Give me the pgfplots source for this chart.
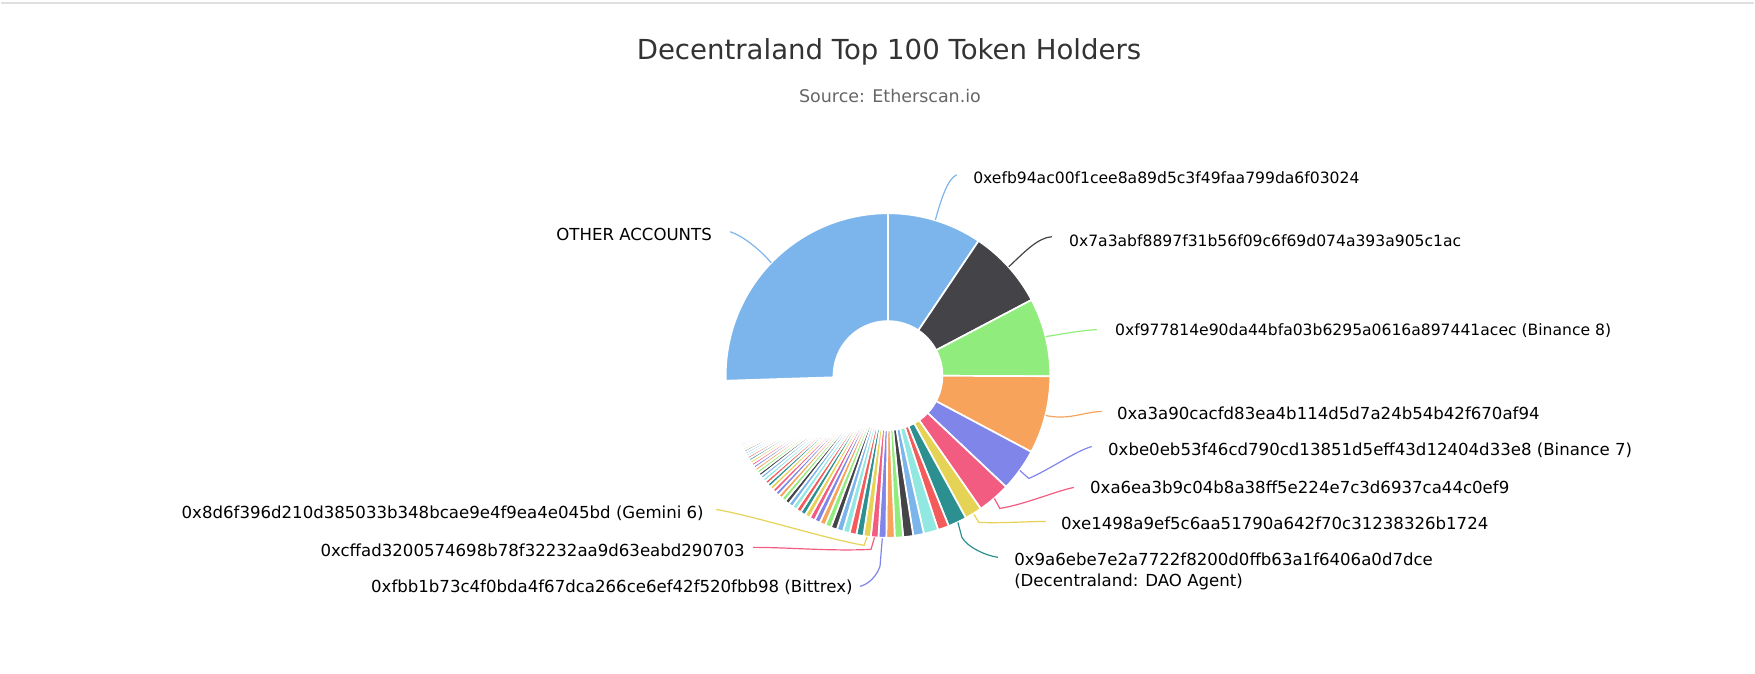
\documentclass[border=0pt]{standalone}
\usepackage{pgfplots}
\usepackage{pgfplotstable}
\pgfplotsset{compat=1.18}
\usepackage{fontspec}
\setmainfont{DejaVu Sans}

\definecolor{c0}{HTML}{7CB5EC}
\definecolor{c1}{HTML}{434348}
\definecolor{c2}{HTML}{90ED7D}
\definecolor{c3}{HTML}{F7A35C}
\definecolor{c4}{HTML}{8085E9}
\definecolor{c5}{HTML}{F15C80}
\definecolor{c6}{HTML}{E4D354}
\definecolor{c7}{HTML}{2B908F}
\definecolor{c8}{HTML}{F45B5B}
\definecolor{c9}{HTML}{91E8E1}
\definecolor{titlegray}{HTML}{333333}
\definecolor{subgray}{HTML}{666666}

% share of supply (%) of the top 100 holders, rank 101 = OTHER ACCOUNTS
\pgfplotstableread{
rank share
1 9.42
2 7.86
3 7.78
4 7.72
5 4.25
6 3.28
7 1.72
8 1.86
9 1.11
10 1.44
11 1.06
12 1.00
13 0.83
14 0.83
15 0.778
16 0.753
17 0.729
18 0.705
19 0.683
20 0.661
21 0.640
22 0.619
23 0.600
24 0.580
25 0.562
26 0.544
27 0.526
28 0.510
29 0.493
30 0.477
31 0.462
32 0.447
33 0.433
34 0.419
35 0.406
36 0.393
37 0.380
38 0.368
39 0.356
40 0.345
41 0.334
42 0.323
43 0.313
44 0.303
45 0.293
46 0.284
47 0.275
48 0.266
49 0.257
50 0.249
51 0.241
52 0.233
53 0.226
54 0.219
55 0.212
56 0.205
57 0.198
58 0.192
59 0.186
60 0.180
61 0.174
62 0.169
63 0.163
64 0.158
65 0.153
66 0.150
67 0.149
68 0.148
69 0.147
70 0.146
71 0.145
72 0.144
73 0.143
74 0.142
75 0.141
76 0.140
77 0.139
78 0.138
79 0.137
80 0.136
81 0.135
82 0.134
83 0.133
84 0.132
85 0.131
86 0.130
87 0.129
88 0.128
89 0.127
90 0.126
91 0.125
92 0.124
93 0.123
94 0.122
95 0.121
96 0.120
97 0.119
98 0.118
99 0.117
100 0.116
101 25.50
}\holders

\begin{document}
\begin{tikzpicture}
\begin{axis}[width=877.5pt,height=337pt,scale only axis,
  xmin=0,xmax=1755,ymin=0,ymax=674,hide axis,clip=false]
\path (axis cs:0,0) rectangle (axis cs:1755,674);
\draw[black!12, line width=1pt] (axis cs:0,671) -- (axis cs:1755,671);
\pgfplotsextra{
  \pgfplotstablegetrowsof{\holders}
  \pgfmathtruncatemacro\N{\pgfplotsretval-1}
  \xdef\tot{0}
  \foreach \i in {0,...,\N}{
    \pgfplotstablegetelem{\i}{share}\of\holders
    \pgfmathparse{\tot+\pgfplotsretval}\xdef\tot{\pgfmathresult}
  }
  \xdef\ang{90}
  \foreach \i in {0,...,\N}{
    \pgfplotstablegetelem{\i}{share}\of\holders
    \pgfmathsetmacro\e{\ang-\pgfplotsretval/\tot*360}
    \pgfmathtruncatemacro\ci{mod(\i,10)}
    \path[fill=c\ci, draw=white, line width=0.85pt, line join=round,
      shift={(axis cs:888,298)}]
      (\ang:27.25pt) arc[start angle=\ang, end angle=\e, radius=27.25pt]
      -- (\e:81.25pt) arc[start angle=\e, end angle=\ang, radius=81.25pt] -- cycle;
    \xdef\ang{\e}
  }
}
% title
\node[text=titlegray, font=\fontsize{13.8}{16}\selectfont] at (axis cs:889,622) {Decentraland Top 100 Token Holders};
\node[text=subgray, font=\fontsize{8.75}{10.5}\selectfont] at (axis cs:890,578) {Source: Etherscan.io};
% connectors
\begin{scope}[line width=0.6pt]
\draw[c0] (axis cs:935.5,454) .. controls (axis cs:941,474) and (axis cs:948,496) .. (axis cs:957,499);
\draw[c1] (axis cs:1009,407) .. controls (axis cs:1025,422) and (axis cs:1038,436) .. (axis cs:1052,437);
\draw[c2] (axis cs:1046,337) .. controls (axis cs:1065,340) and (axis cs:1080,343) .. (axis cs:1097,344);
\draw[c3] (axis cs:1046,258) .. controls (axis cs:1070,253) and (axis cs:1085,262) .. (axis cs:1102,262);
\draw[c4] (axis cs:1020,203) -- (axis cs:1029,195) .. controls (axis cs:1050,204) and (axis cs:1075,222) .. (axis cs:1092,227);
\draw[c5] (axis cs:994.5,175) -- (axis cs:1000,165) .. controls (axis cs:1025,169) and (axis cs:1055,182) .. (axis cs:1074,186);
\draw[c6] (axis cs:974,159) -- (axis cs:979,151) .. controls (axis cs:1000,150) and (axis cs:1030,152) .. (axis cs:1046,152);
\draw[c7] (axis cs:958,151) -- (axis cs:962,136) .. controls (axis cs:968,126) and (axis cs:985,118) .. (axis cs:998,116);
\draw[c4] (axis cs:882.3,135) -- (axis cs:880,107) .. controls (axis cs:876,96) and (axis cs:868,89) .. (axis cs:860,87);
\draw[c5] (axis cs:874.5,136) -- (axis cs:871,124) .. controls (axis cs:830,122) and (axis cs:790,126) .. (axis cs:753,126);
\draw[c6] (axis cs:867,136.4) -- (axis cs:864,128) .. controls (axis cs:820,136) and (axis cs:760,156) .. (axis cs:716,164);
\draw[c0] (axis cs:771,411) .. controls (axis cs:758,426) and (axis cs:742,438) .. (axis cs:730,442);
\end{scope}
% labels
\begin{scope}[every node/.style={inner sep=0pt, text=black, font=\fontsize{8.3}{10.5}\selectfont}]
\node[anchor=west, font=\fontsize{7.8}{10.5}\selectfont] at (axis cs:973,496) {0xefb94ac00f1cee8a89d5c3f49faa799da6f03024};
\node[anchor=west, font=\fontsize{7.8}{10.5}\selectfont] at (axis cs:1069,433) {0x7a3abf8897f31b56f09c6f69d074a393a905c1ac};
\node[anchor=west, font=\fontsize{7.8}{10.5}\selectfont] at (axis cs:1115,343) {0xf977814e90da44bfa03b6295a0616a897441acec (Binance 8)};
\node[anchor=west] at (axis cs:1117,260) {0xa3a90cacfd83ea4b114d5d7a24b54b42f670af94};
\node[anchor=west] at (axis cs:1108,223) {0xbe0eb53f46cd790cd13851d5eff43d12404d33e8 (Binance 7)};
\node[anchor=west] at (axis cs:1090,186) {0xa6ea3b9c04b8a38ff5e224e7c3d6937ca44c0ef9};
\node[anchor=west] at (axis cs:1061,150) {0xe1498a9ef5c6aa51790a642f70c31238326b1724};
\node[anchor=west, align=left] at (axis cs:1014,101.5) {0x9a6ebe7e2a7722f8200d0ffb63a1f6406a0d7dce\\(Decentraland: DAO Agent)};
\node[anchor=east] at (axis cs:712,439) {OTHER ACCOUNTS};
\node[anchor=east] at (axis cs:704,160) {0x8d6f396d210d385033b348bcae9e4f9ea4e045bd (Gemini 6)};
\node[anchor=east] at (axis cs:745,123) {0xcffad3200574698b78f32232aa9d63eabd290703};
\node[anchor=east] at (axis cs:853,86) {0xfbb1b73c4f0bda4f67dca266ce6ef42f520fbb98 (Bittrex)};
\end{scope}
\end{axis}
\end{tikzpicture}
\end{document}
